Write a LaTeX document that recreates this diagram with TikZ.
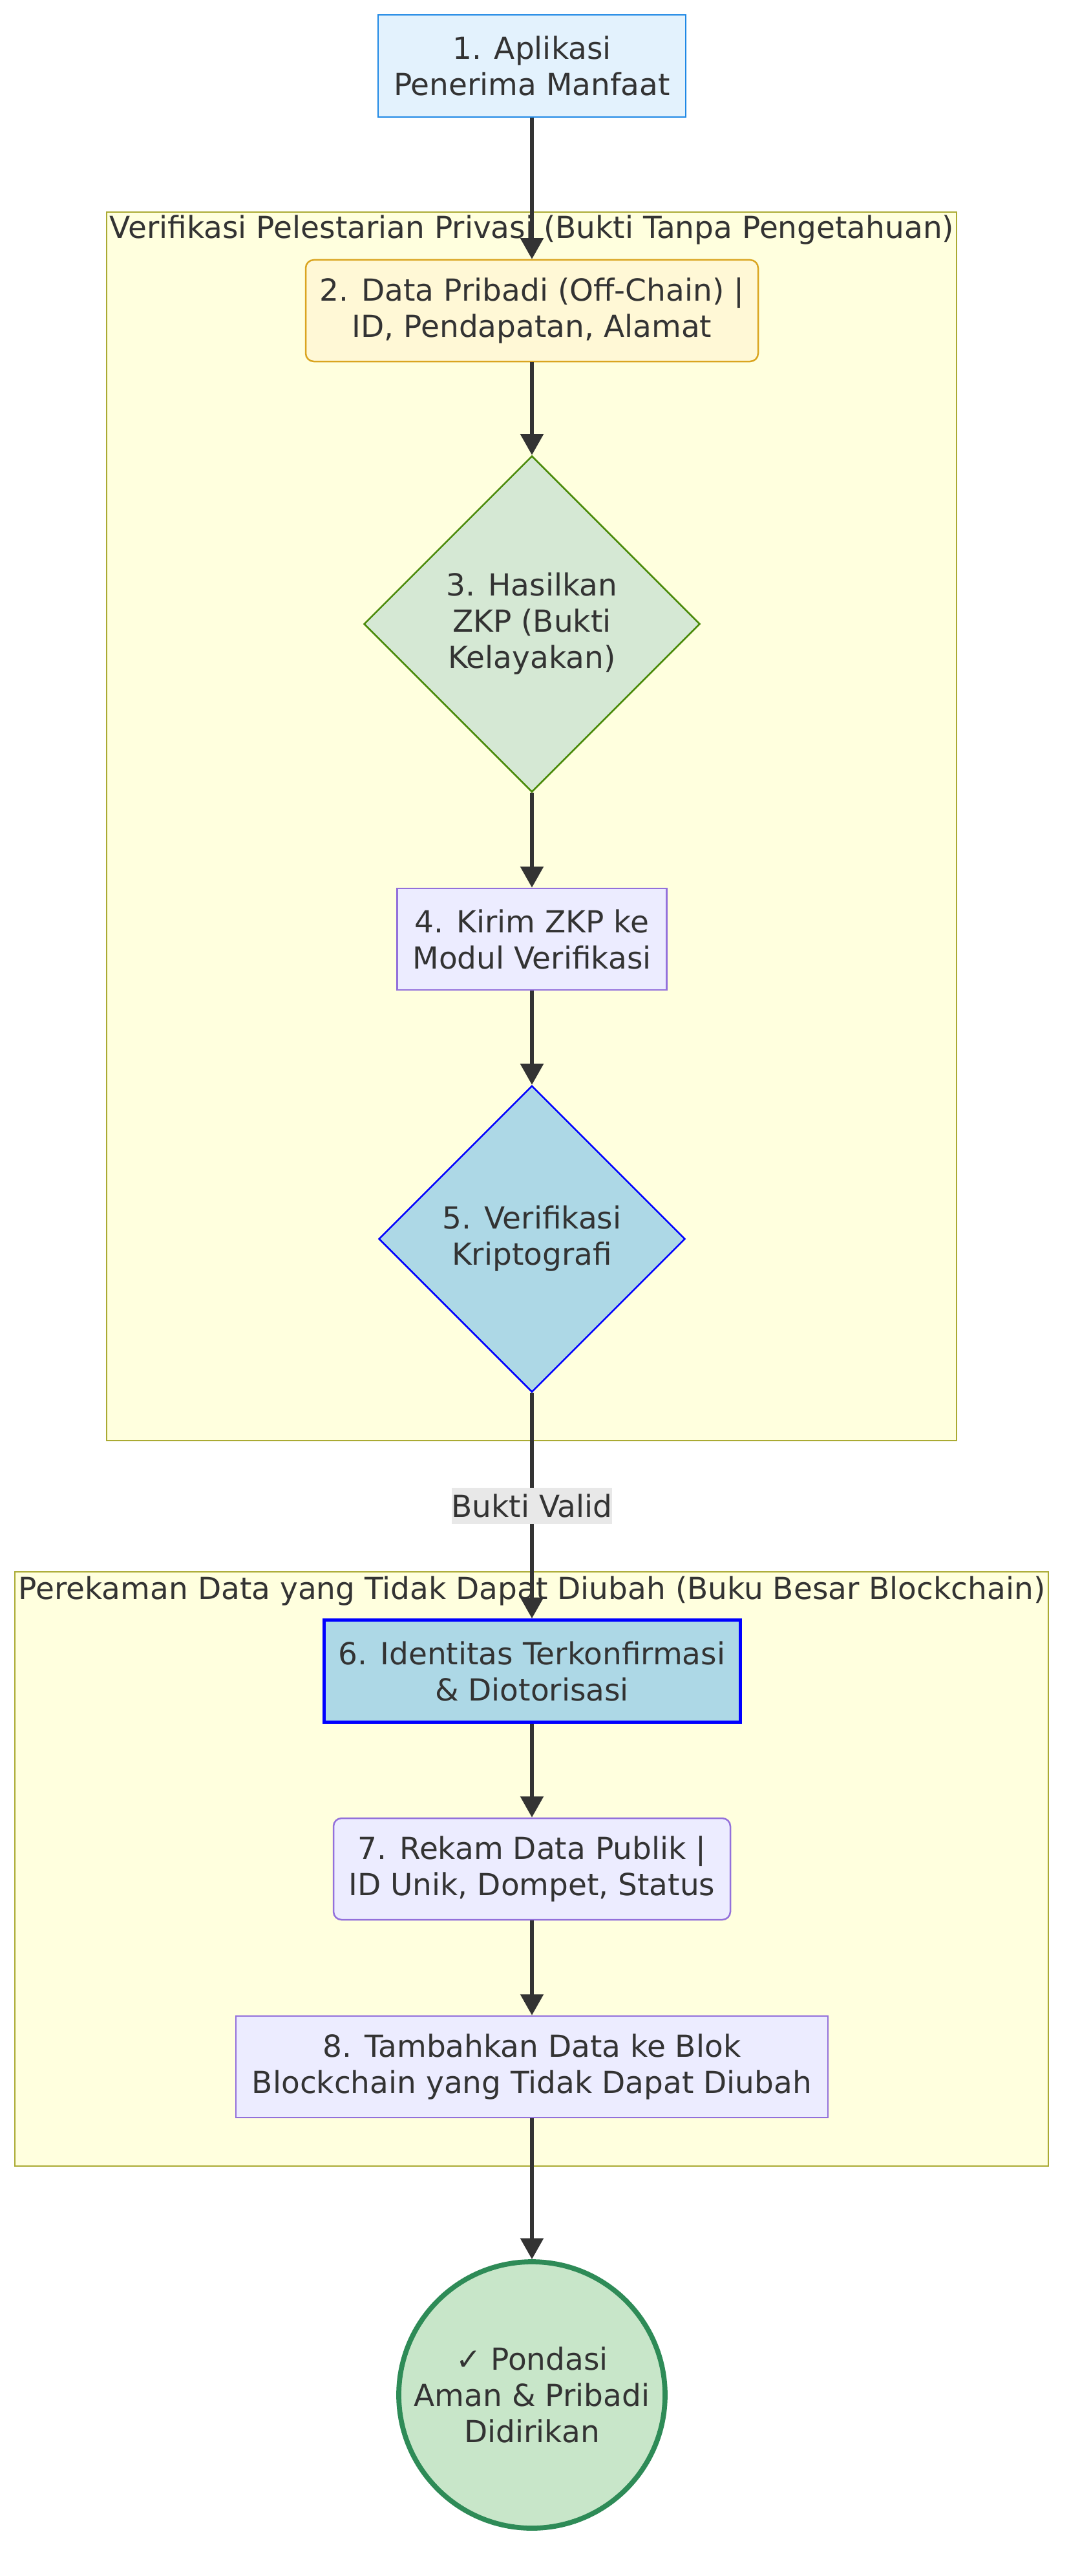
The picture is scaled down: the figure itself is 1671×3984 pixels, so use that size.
\documentclass[tikz,border=0pt]{standalone}
\usepackage{fontspec}
\setmainfont{DejaVu Sans}
\usetikzlibrary{arrows.meta,shapes.geometric}
\definecolor{txt}{HTML}{333333}
\definecolor{grpfill}{HTML}{FFFFDE}
\definecolor{grpline}{HTML}{AAAA33}
\definecolor{defill}{HTML}{ECECFF}
\definecolor{deline}{HTML}{9370DB}
\definecolor{startfill}{HTML}{E3F2FD}
\definecolor{startline}{HTML}{1E88E5}
\definecolor{datafill}{HTML}{FFF8D6}
\definecolor{dataline}{HTML}{DAA520}
\definecolor{zkpfill}{HTML}{D5E8D4}
\definecolor{zkpline}{HTML}{4B8B0B}
\definecolor{okfill}{HTML}{ADD8E6}
\definecolor{endfill}{HTML}{C8E6C9}
\definecolor{endline}{HTML}{2E8B57}
\definecolor{lblfill}{HTML}{E8E8E8}

\begin{document}
\begin{tikzpicture}[x=0.4pt,y=-0.4pt,
  every node/.style={font=\fontsize{18.8pt}{22.4pt}\selectfont, text=txt, align=center, inner sep=0pt},
  box/.style={draw=deline, fill=defill, line width=1pt, minimum height=62.8pt},
  group/.style={draw=grpline, fill=grpfill, line width=1pt},
  flow/.style={draw=txt, line width=2.2pt, -{Triangle[length=13pt,width=14pt]}}]
\useasboundingbox (0,0) rectangle (1671,3984);

% groups
\draw [group] (165,328) rectangle (1480,2228);
\node (g1) at (823,356) {Verifikasi Pelestarian Privasi (Bukti Tanpa Pengetahuan)};
\draw [group] (23,2431) rectangle (1622,3350);
\node (g2) at (823,2461) {Perekaman Data yang Tidak Dapat Diubah (Buku Besar Blockchain)};

% steps
\node [box, draw=startline, fill=startfill, minimum width=190.4pt, minimum height=63.2pt] (apl) at (823,102) {1. Aplikasi\\Penerima Manfaat};
\node [box, draw=dataline, fill=datafill, rounded corners=5pt, minimum width=280pt] (data) at (823,480.5) {2. Data Pribadi (Off-Chain) |\\ID, Pendapatan, Alamat};
\node [diamond, aspect=1, draw=zkpline, fill=zkpfill, line width=1pt, minimum width=208pt, minimum height=208pt] (zkp) at (823,965) {3. Hasilkan\\ZKP (Bukti\\Kelayakan)};
\node [box, minimum width=166.8pt] (kirim) at (823,1452.5) {4. Kirim ZKP ke\\Modul Verifikasi};
\node [diamond, aspect=1, draw=blue, fill=okfill, line width=1pt, minimum width=189.6pt, minimum height=189.6pt] (verif) at (823,1916) {5. Verifikasi\\Kriptografi};
\node [box, draw=blue, fill=okfill, line width=2pt, minimum width=257.6pt, minimum height=63.2pt] (idn) at (823,2584.5) {6. Identitas Terkonfirmasi\\\& Diotorisasi};
\node [box, rounded corners=5pt, minimum width=245.6pt] (rekam) at (823,2890.5) {7. Rekam Data Publik |\\ID Unik, Dompet, Status};
\node [box, minimum width=366.4pt] (blok) at (823,3196.5) {8. Tambahkan Data ke Blok\\Blockchain yang Tidak Dapat Diubah};
\node [circle, draw=endline, fill=endfill, line width=3.1pt, minimum size=164.8pt] (fond) at (823,3704) {✓ Pondasi\\Aman \& Pribadi\\Didirikan};

% arrows
\draw [flow] (apl) -- (data);
\draw [flow] (data) -- (zkp);
\draw [flow] (zkp) -- (kirim);
\draw [flow] (kirim) -- (verif);
\draw [flow] (verif) -- node[fill=lblfill, minimum height=22.4pt] (valid) {Bukti Valid} (idn);
\draw [flow] (idn) -- (rekam);
\draw [flow] (rekam) -- (blok);
\draw [flow] (blok) -- (fond);

\end{tikzpicture}
\end{document}
